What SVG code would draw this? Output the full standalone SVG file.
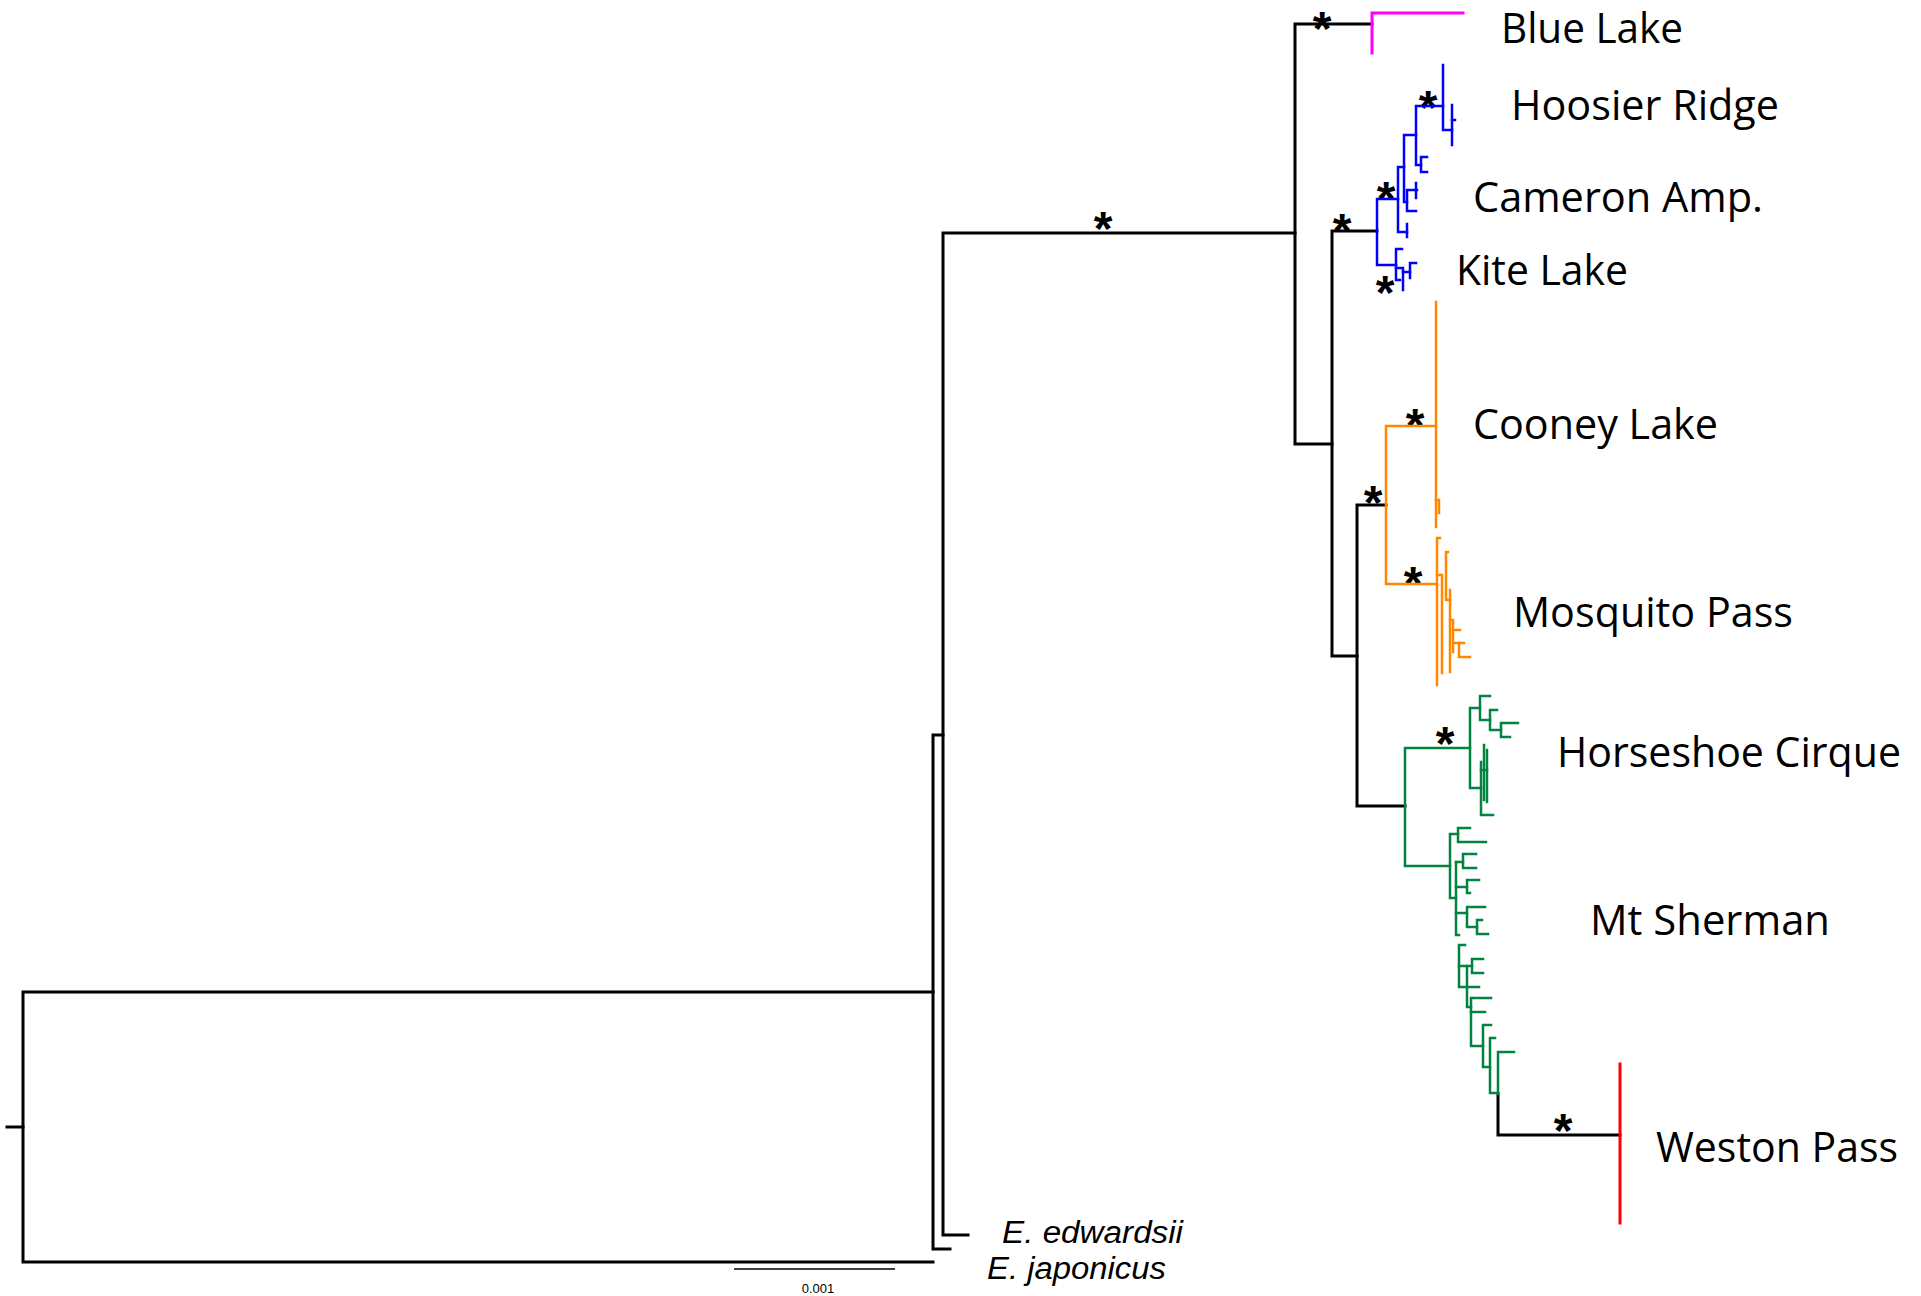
<svg xmlns="http://www.w3.org/2000/svg" width="1921" height="1296" viewBox="0 0 1921 1296">
<style>
.br{fill:none;stroke-width:3;stroke-linejoin:miter;stroke-linecap:square}
.k{stroke:#000}
.m{stroke:#FF00FF}
.b{stroke:#0000FF;stroke-width:2.5}
.o{stroke:#FF8800;stroke-width:2.5}
.g{stroke:#00843F;stroke-width:2.5}
.r{stroke:#FF0000;stroke-width:3}
.lab{font-family:"Open Sans","Liberation Sans",sans-serif;font-size:42px;fill:#000}
.it{font-family:"Liberation Sans",Arial,sans-serif;font-size:31px;font-style:italic;fill:#000}
.st{font-family:"Liberation Sans",Arial,sans-serif;font-size:48px;font-weight:bold;fill:#000;text-anchor:middle}
.sc{font-family:"Liberation Sans",Arial,sans-serif;font-size:13px;fill:#000}
</style>
<rect width="1921" height="1296" fill="#fff"/>
<g id="connectors">
<path class="br k" d="M7,1127 H23"/>
<path class="br k" d="M933,992 H23 V1262 H933"/>
<path class="br k" d="M943,735 H933 V1249 H950"/>
<path class="br k" d="M968,1235 H943 V233 H1295"/>
<path class="br k" d="M1372,24 H1295 V444 H1332"/>
<path class="br k" d="M1377,231 H1332 V656 H1357"/>
<path class="br k" d="M1386,505 H1357 V806 H1405"/>
<path class="br k" d="M1498,1094 V1135 H1620"/>
</g>
<g id="support">
<text class="st" x="1103" y="245">*</text>
<text class="st" x="1322" y="45">*</text>
<text class="st" x="1342" y="247">*</text>
<text class="st" x="1386" y="215">*</text>
<text class="st" x="1385" y="309">*</text>
<text class="st" x="1428" y="124">*</text>
<text class="st" x="1373" y="519">*</text>
<text class="st" x="1415" y="442">*</text>
<text class="st" x="1413" y="600">*</text>
<text class="st" x="1445" y="760">*</text>
<text class="st" x="1563" y="1147">*</text>
</g>
<g id="blue-lake">
<path class="br m" d="M1463,13 H1372 V53"/>
<text class="lab" x="1501" y="43" textLength="182" lengthAdjust="spacingAndGlyphs">Blue Lake</text>
</g>
<g id="hoosier-cameron-kite">
<path class="br b" d="M1398,199 H1377 V265 H1396"/>
<path class="br b" d="M1404,167 H1398 V232 H1407"/>
<path class="br b" d="M1407,224 V237"/>
<path class="br b" d="M1416,135 H1404 V202 H1407"/>
<path class="br b" d="M1417,190 H1407 V211 H1416"/>
<path class="br b" d="M1416,183 V198"/>
<path class="br b" d="M1443,106 H1416 V165 H1421"/>
<path class="br b" d="M1427,157 H1421 V172 H1427"/>
<path class="br b" d="M1443,65 V130 H1452"/>
<path class="br b" d="M1452,105 V145"/>
<path class="br b" d="M1452,120 H1455"/>
<path class="br b" d="M1402,249 H1396 V280 H1400"/>
<path class="br b" d="M1396,268 H1403 V290"/>
<path class="br b" d="M1403,272 H1410 V263 H1416"/>
<path class="br b" d="M1410,272 V278"/>
<text class="lab" x="1511" y="120" textLength="268" lengthAdjust="spacingAndGlyphs">Hoosier Ridge</text>
<text class="lab" x="1473" y="212" textLength="290" lengthAdjust="spacingAndGlyphs">Cameron Amp.</text>
<text class="lab" x="1456" y="285" textLength="172" lengthAdjust="spacingAndGlyphs">Kite Lake</text>
</g>
<g id="cooney-mosquito">
<path class="br o" d="M1436,426 H1386 V584 H1437"/>
<path class="br o" d="M1436,302 V527"/>
<path class="br o" d="M1436,500 H1439 V513"/>
<path class="br o" d="M1440,538 H1437 V685"/>
<path class="br o" d="M1437,575 H1442 V673"/>
<path class="br o" d="M1448,552 H1446 V600 H1450"/>
<path class="br o" d="M1450,590 V672"/>
<path class="br o" d="M1450,620 H1453 V652"/>
<path class="br o" d="M1453,630 H1460"/>
<path class="br o" d="M1453,643 H1459 V657 H1470"/>
<path class="br o" d="M1459,643 H1464"/>
<text class="lab" x="1473" y="439" textLength="245" lengthAdjust="spacingAndGlyphs">Cooney Lake</text>
<text class="lab" x="1513" y="627" textLength="280" lengthAdjust="spacingAndGlyphs">Mosquito Pass</text>
</g>
<g id="horseshoe-sherman">
<path class="br g" d="M1470,748 H1405 V866 H1450"/>
<path class="br g" d="M1480,708 H1470 V788 H1481"/>
<path class="br g" d="M1490,696 H1480 V720 H1490"/>
<path class="br g" d="M1497,710 H1490 V730 H1501"/>
<path class="br g" d="M1518,723 H1501 V737 H1510"/>
<path class="br g" d="M1481,762 V815 H1493"/>
<path class="br g" d="M1484,745 V800"/>
<path class="br g" d="M1487,750 V802"/>
<path class="br g" d="M1481,770 H1487"/>
<path class="br g" d="M1458,834 H1450 V898 H1456"/>
<path class="br g" d="M1470,828 H1458 V842 H1486"/>
<path class="br g" d="M1456,862 V935 H1459"/>
<path class="br g" d="M1476,854 H1463 V868 H1476"/>
<path class="br g" d="M1456,862 H1463"/>
<path class="br g" d="M1456,887 H1467"/>
<path class="br g" d="M1479,880 H1467 V893 H1470"/>
<path class="br g" d="M1456,913 H1467"/>
<path class="br g" d="M1485,907 H1467 V927 H1477"/>
<path class="br g" d="M1482,920 H1477 V934 H1488"/>
<path class="br g" d="M1465,945 H1459 V987 H1479"/>
<path class="br g" d="M1459,966 H1467 V1007 H1471"/>
<path class="br g" d="M1483,959 H1472 V973 H1483"/>
<path class="br g" d="M1467,966 H1472"/>
<path class="br g" d="M1491,998 H1471 V1046 H1483"/>
<path class="br g" d="M1485,1012 H1471"/>
<path class="br g" d="M1491,1025 H1483 V1067 H1490"/>
<path class="br g" d="M1495,1038 H1490 V1093 H1498"/>
<path class="br g" d="M1514,1052 H1498 V1094"/>
<text class="lab" x="1557" y="767" textLength="344" lengthAdjust="spacingAndGlyphs">Horseshoe Cirque</text>
<text class="lab" x="1590" y="935" textLength="240" lengthAdjust="spacingAndGlyphs">Mt Sherman</text>
</g>
<g id="weston-pass">
<path class="br r" d="M1620,1064 V1223"/>
<text class="lab" x="1656" y="1162" textLength="242" lengthAdjust="spacingAndGlyphs">Weston Pass</text>
</g>
<g id="outgroups">
<text class="it" x="1002" y="1243" textLength="181" lengthAdjust="spacingAndGlyphs">E. edwardsii</text>
<text class="it" x="987" y="1279" textLength="179" lengthAdjust="spacingAndGlyphs">E. japonicus</text>
</g>
<g id="scale-bar">
<path d="M734,1269 H895" stroke="#000" stroke-width="1.5" fill="none"/>
<text class="sc" x="818" y="1293" text-anchor="middle">0.001</text>
</g>
</svg>
